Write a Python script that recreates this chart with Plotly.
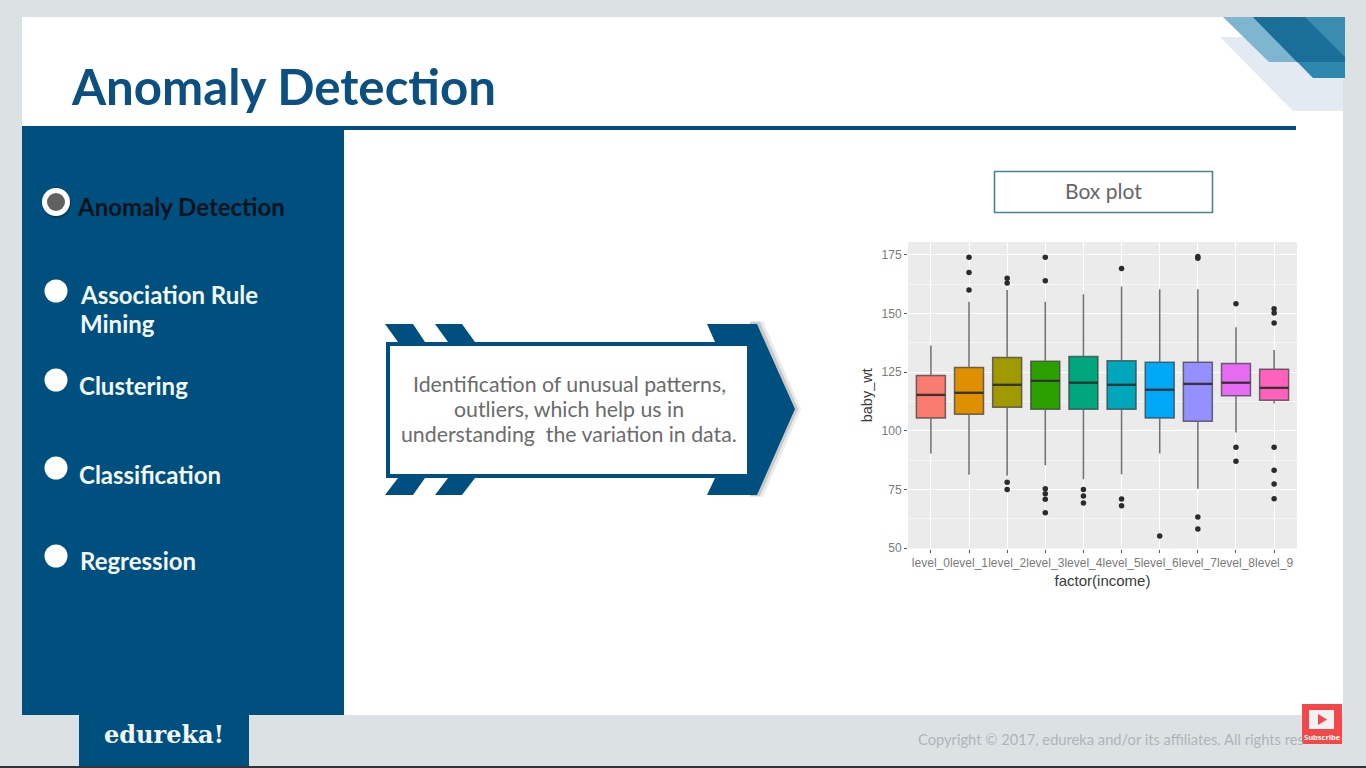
import plotly.graph_objects as go

W, H = 1366, 768

# ---- chart data ----
levels = ["level_0", "level_1", "level_2", "level_3", "level_4",
          "level_5", "level_6", "level_7", "level_8", "level_9"]
q1 = [105.4, 107.0, 110.0, 109.2, 109.2, 109.2, 105.4, 104.1, 114.9, 113.0]
medians = [115.3, 116.2, 119.6, 121.3, 120.5, 119.6, 117.5, 120.0, 120.5, 118.3]
q3 = [123.6, 127.0, 131.3, 129.6, 131.7, 129.9, 129.2, 129.2, 128.7, 126.2]
whisker_low = [90.3, 81.3, 80.8, 85.3, 79.3, 81.5, 90.3, 75.3, 99.3, 111.6]
whisker_high = [136.4, 155.0, 160.0, 155.0, 158.2, 161.5, 160.3, 160.3, 144.1, 134.4]
outliers = [
    [],
    [174.0, 167.5, 160.0],
    [165.0, 163.0, 78.0, 75.0],
    [174.0, 164.0, 75.3, 73.2, 70.8, 65.0],
    [75.0, 72.2, 69.2],
    [169.2, 70.9, 68.0],
    [55.1],
    [174.3, 173.6, 63.2, 58.1],
    [154.2, 93.0, 87.0],
    [152.0, 150.2, 146.0, 93.0, 83.2, 77.3, 71.0],
]
fills = ["#FA7B6F", "#DF9000", "#A09A00", "#2CA000", "#00A77E",
         "#00A6BC", "#00A8F8", "#9590FF", "#E76BF3", "#FF62BC"]

# ---- slide text ----
menu_items = ["Association Rule", "Mining", "Clustering", "Classification", "Regression"]
callout_lines = ["Identification of unusual patterns,", "outliers, which help us in",
                 "understanding  the variation in data."]

NAVY = "#00507F"
GREY = "#DCE2E4"


def px(x):
    return x / W


def py(y):
    return 1 - y / H


def poly(points, color, layer="below", opacity=1):
    d = "M" + " L".join(f"{px(x):.5f},{py(y):.5f}" for x, y in points) + " Z"
    return dict(type="path", path=d, xref="paper", yref="paper", fillcolor=color,
                line=dict(width=0), layer=layer, opacity=opacity)


def rect(x0, y0, x1, y1, color, line=None, lw=0, layer="below"):
    return dict(type="rect", xref="paper", yref="paper", x0=px(x0), x1=px(x1),
                y0=py(y1), y1=py(y0), fillcolor=color,
                line=dict(width=lw, color=line or color), layer=layer)


def circle(cx, cy, r, color, layer="below"):
    return dict(type="circle", xref="paper", yref="paper", x0=px(cx - r), x1=px(cx + r),
                y0=py(cy + r), y1=py(cy - r), fillcolor=color, line=dict(width=0), layer=layer)


def text(x, y, s, size, color, font="Lato", anchor="left", bold=False):
    return dict(xref="paper", yref="paper", x=px(x - 3 if anchor == "left" else x), y=py(y),
                text=f"<b>{s}</b>" if bold else s, align=anchor,
                showarrow=False, xanchor=anchor, yanchor="middle",
                font=dict(family=font, size=size, color=color))


shapes = [
    rect(22, 17, 1343, 715, "#FFFFFF"),
    # top-right ribbon
    poly([(1220, 37), (1293, 111), (1343, 111), (1343, 37)], "#E3EAF1"),
    poly([(1223, 17), (1269, 62), (1345, 62), (1345, 17)], "#7DB6CE"),
    poly([(1253, 17), (1313, 78), (1345, 78), (1345, 17)], "#2E87AE"),
    poly([(1253, 17), (1297, 62), (1345, 62), (1345, 17)], "#1A6F99"),
    poly([(1305, 17), (1345, 57), (1345, 17)], "#3A8CB0"),
    # title rule and side panel
    rect(22, 126, 1296, 130, NAVY),
    rect(22, 130, 344, 715, NAVY),
    # footer
    rect(0, 715, W, 768, GREY),
    rect(79, 715, 249, 767, NAVY),
    rect(0, 766, W, 768, "#30363A"),
    # bullets
    circle(57, 204, 14, "#003A5C"),
    circle(56, 202, 14, "#FFFFFF"),
    circle(56, 202, 9, "#606060"),
    circle(56, 291, 11.5, "#FFFFFF"),
    circle(56, 380, 11.5, "#FFFFFF"),
    circle(56, 468, 11.5, "#FFFFFF"),
    circle(56, 556, 11.5, "#FFFFFF"),
    # callout arrow: soft shadow then body
    poly([(713, 321), (763, 321), (801, 409), (763, 497), (750, 497), (750, 321)], "#555555", opacity=0.12),
    poly([(711, 322), (760, 322), (798, 409), (760, 496), (750, 496), (750, 322)], "#555555", opacity=0.22),
    poly([(385, 324), (413, 324), (425, 342), (398, 342)], NAVY),
    poly([(435, 324), (462, 324), (475, 342), (448, 342)], NAVY),
    poly([(385, 495), (413, 495), (425, 478), (398, 478)], NAVY),
    poly([(435, 495), (462, 495), (475, 478), (448, 478)], NAVY),
    poly([(707, 324), (757, 324), (795, 409), (757, 495), (707, 495),
          (715, 478), (751, 478), (751, 342), (715, 342)], NAVY),
    rect(386, 342, 751, 478, NAVY),
    rect(390, 346, 747, 474, "#FFFFFF"),
    # chart caption box
    rect(994.5, 171.5, 1212.5, 212.5, "#FFFFFF", line="#4C7F98", lw=1.6),
    # chart panel
    rect(908, 242, 1297, 548.5, "#EBEBEB"),
    # subscribe badge
    rect(1302, 704, 1342, 744, "#F4474A", layer="above"),
    rect(1309, 710, 1334, 729, "#F2F2F2", layer="above"),
    poly([(1318, 714), (1318, 725), (1327, 719.5)], "#F4474A", layer="above"),
]

annotations = [
    text(72, 86, "Anomaly Detection", 49.2, "#0B5080", bold=True),
    text(78, 206, "Anomaly Detection", 24, "#06121C", bold=True),
    text(81, 295, menu_items[0], 24, "#F2F7FA", bold=True),
    text(81, 323, menu_items[1], 24, "#F2F7FA", bold=True),
    text(80, 385, menu_items[2], 24, "#F2F7FA", bold=True),
    text(80, 474, menu_items[3], 24, "#F2F7FA", bold=True),
    text(81, 560, menu_items[4], 24, "#F2F7FA", bold=True),
    text(569, 384, callout_lines[0], 21.3, "#6B6B6B", anchor="center"),
    text(569, 409, callout_lines[1], 21.3, "#6B6B6B", anchor="center"),
    text(569, 434, callout_lines[2], 21.3, "#6B6B6B", anchor="center"),
    text(1103, 190, "Box plot", 21, "#666666", anchor="center"),
    text(164, 734, "edureka!", 24, "#F2F7FA", font="DejaVu Serif", anchor="center", bold=True),
    text(919, 739, "Copyright © 2017, edureka and/or its affiliates. All rights res", 14.7, "#AEB5B7"),
    text(1322, 737, "Subscribe", 7.5, "#FFFFFF", font="Open Sans", anchor="center", bold=True),
]

fig = go.Figure()

for i, level in enumerate(levels):
    fig.add_trace(go.Box(
        x=[level], q1=[q1[i]], median=[medians[i]], q3=[q3[i]],
        lowerfence=[whisker_low[i]], upperfence=[whisker_high[i]],
        width=0.76, whiskerwidth=0, boxpoints=False, fillcolor=fills[i],
        line=dict(color="rgba(60,60,60,0.72)", width=1.5), showlegend=False, hoverinfo="skip",
    ))
    if outliers[i]:
        fig.add_trace(go.Scatter(
            x=[level] * len(outliers[i]), y=outliers[i], mode="markers",
            marker=dict(color="#2B2B2B", size=5.5), showlegend=False, hoverinfo="skip",
        ))
    # thick median bar, as ggplot draws it
    shapes.append(dict(type="line", xref="x", yref="y", x0=i - 0.38, x1=i + 0.38,
                       y0=medians[i], y1=medians[i], layer="above",
                       line=dict(color="rgba(45,45,45,0.85)", width=2.4)))

fig.update_layout(
    width=W, height=H, autosize=False,
    margin=dict(l=0, r=0, t=0, b=0, autoexpand=False),
    paper_bgcolor=GREY, plot_bgcolor="#EBEBEB",
    shapes=shapes, annotations=annotations, boxmode="overlay",
    xaxis=dict(
        domain=[px(908), px(1297)], type="category", categoryorder="array",
        categoryarray=levels, range=[-0.6, 9.6], tickangle=0,
        showgrid=True, gridcolor="#FFFFFF", gridwidth=1, zeroline=False,
        ticks="outside", ticklen=3, tickcolor="#555555", tickwidth=1,
        tickfont=dict(family="Liberation Sans", size=12, color="#7A7A7A"),
        title=dict(text="factor(income)", standoff=6,
                   font=dict(family="Liberation Sans", size=15, color="#3A3A3A")),
        automargin=False, anchor="y",
    ),
    yaxis=dict(
        domain=[py(548.5), py(242)], range=[49.8, 180.5],
        tickvals=[50, 75, 100, 125, 150, 175], showgrid=True, gridcolor="#FFFFFF",
        gridwidth=1.2, zeroline=False, ticks="outside", ticklen=3,
        tickcolor="#555555", tickwidth=1,
        minor=dict(tickvals=[62.5, 87.5, 112.5, 137.5, 162.5], showgrid=True,
                   gridcolor="#F6F6F6", gridwidth=0.8, ticks=""),
        tickfont=dict(family="Liberation Sans", size=12, color="#7A7A7A"),
        title=dict(text="baby_wt", standoff=5,
                   font=dict(family="Liberation Sans", size=14.5, color="#3A3A3A")),
        automargin=False, anchor="x",
    ),
)

fig.write_html("out.html", config=dict(displayModeBar=False, responsive=False),
               post_script="document.body.style.margin='0';document.body.style.overflow='hidden';")
